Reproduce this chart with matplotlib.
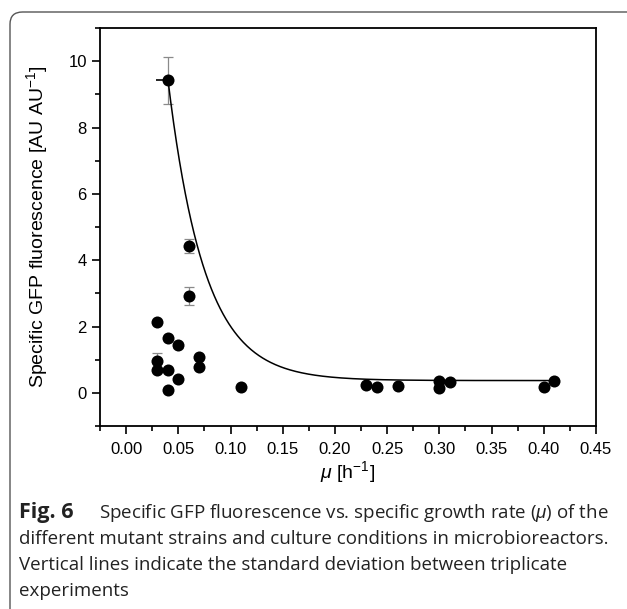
import numpy as np
import matplotlib
matplotlib.use("Agg")
import matplotlib.pyplot as plt
from matplotlib.patches import FancyBboxPatch

# growth rate mu [1/h] and specific GFP fluorescence [AU/AU]
mu = [0.03, 0.03, 0.03, 0.04, 0.04, 0.04, 0.04, 0.05, 0.05, 0.06, 0.06,
      0.07, 0.07, 0.11, 0.23, 0.24, 0.26, 0.30, 0.30, 0.31, 0.40, 0.41]
gfp = [2.13, 0.96, 0.70, 9.43, 1.64, 0.68, 0.10, 1.43, 0.42, 4.43, 2.91,
       1.09, 0.78, 0.17, 0.24, 0.18, 0.21, 0.36, 0.16, 0.34, 0.18, 0.36]
gfp_sd = [0.0, 0.24, 0.0, 0.71, 0.0, 0.0, 0.0, 0.08, 0.0, 0.20, 0.27,
          0.0, 0.0, 0.0, 0.0, 0.0, 0.0, 0.0, 0.0, 0.0, 0.0, 0.0]

# exponential decay fit y = y0 + A*exp(-x/t)
fit_y0 = 0.37
fit_A = 28.5
fit_t = 0.035
fit_range = (0.04, 0.41)

plt.rcParams['font.family'] = ['Liberation Sans', 'DejaVu Sans']
plt.rcParams['mathtext.fontset'] = 'custom'
plt.rcParams['mathtext.rm'] = 'Liberation Sans'
plt.rcParams['mathtext.it'] = 'Liberation Sans:italic'

fig = plt.figure(figsize=(6.27, 6.09), dpi=100)
ax = fig.add_axes([100/627, 1-426/609, 496/627, 398/609])

xf = np.linspace(fit_range[0], fit_range[1], 400)
ax.plot(xf, fit_y0 + fit_A*np.exp(-xf/fit_t), color='black', lw=1.1, zorder=2)

sd = np.array(gfp_sd)
has_err = sd > 0
ax.errorbar(np.array(mu)[has_err], np.array(gfp)[has_err], yerr=sd[has_err],
            fmt='none', ecolor='#8a8a8a', elinewidth=0.9, capsize=3.5, capthick=0.9, zorder=1)
# horizontal dash at the highest point
ax.errorbar([mu[3]], [gfp[3]], xerr=[[0.011], [0]], fmt='none', ecolor='black',
            elinewidth=1.2, capsize=0, zorder=2)
ax.scatter(mu, gfp, s=75, color='black', zorder=3, linewidths=0)

ax.set_xlim(-0.025, 0.45)
ax.set_ylim(-1, 11)
ax.set_xticks(np.arange(0, 0.451, 0.05))
ax.set_xticks(np.arange(-0.025, 0.451, 0.025), minor=True)
ax.set_yticks(np.arange(0, 11, 2))
ax.set_yticks(np.arange(-1, 11.1, 1), minor=True)
ax.xaxis.set_major_formatter(matplotlib.ticker.FormatStrFormatter('%.2f'))
ax.tick_params(which='major', length=6, width=1.2, labelsize=12, direction='out')
ax.tick_params(which='minor', length=3.5, width=1.2, direction='out')
ax.tick_params(axis='x', pad=5.5)
for s in ax.spines.values():
    s.set_linewidth(1.3)

ax.set_ylabel('Specific GFP fluorescence [AU AU$^{-1}$]', fontsize=14, labelpad=13)
ax.set_xlabel(r'$\mu$ [h$^{-1}$]', fontsize=14, labelpad=1.5)

# caption
cap = dict(fontsize=13.5, family=['Open Sans', 'DejaVu Sans'], color='#222222', va='baseline')
fig.text(19/627, 1-518/609, 'Fig. 6', fontweight='bold', **dict(cap, fontsize=15.5))
fig.text(99/627, 1-518/609, 'Specific GFP fluorescence vs. specific growth rate ($\\mathit{\\mu}$) of the', **cap)
fig.text(19/627, 1-544/609, 'different mutant strains and culture conditions in microbioreactors.', **cap)
fig.text(19/627, 1-570/609, 'Vertical lines indicate the standard deviation between triplicate', **cap)
fig.text(19/627, 1-596/609, 'experiments', **cap)

# rounded frame around the figure
frame = FancyBboxPatch((10/627, -0.05), 1.1, 1.05 - 12/609, transform=fig.transFigure,
                       boxstyle='round,pad=0,rounding_size=0.02', fill=False,
                       edgecolor='#555555', lw=1.0, clip_on=False)
fig.patches.append(frame)

fig.savefig('out.png', dpi=100)
